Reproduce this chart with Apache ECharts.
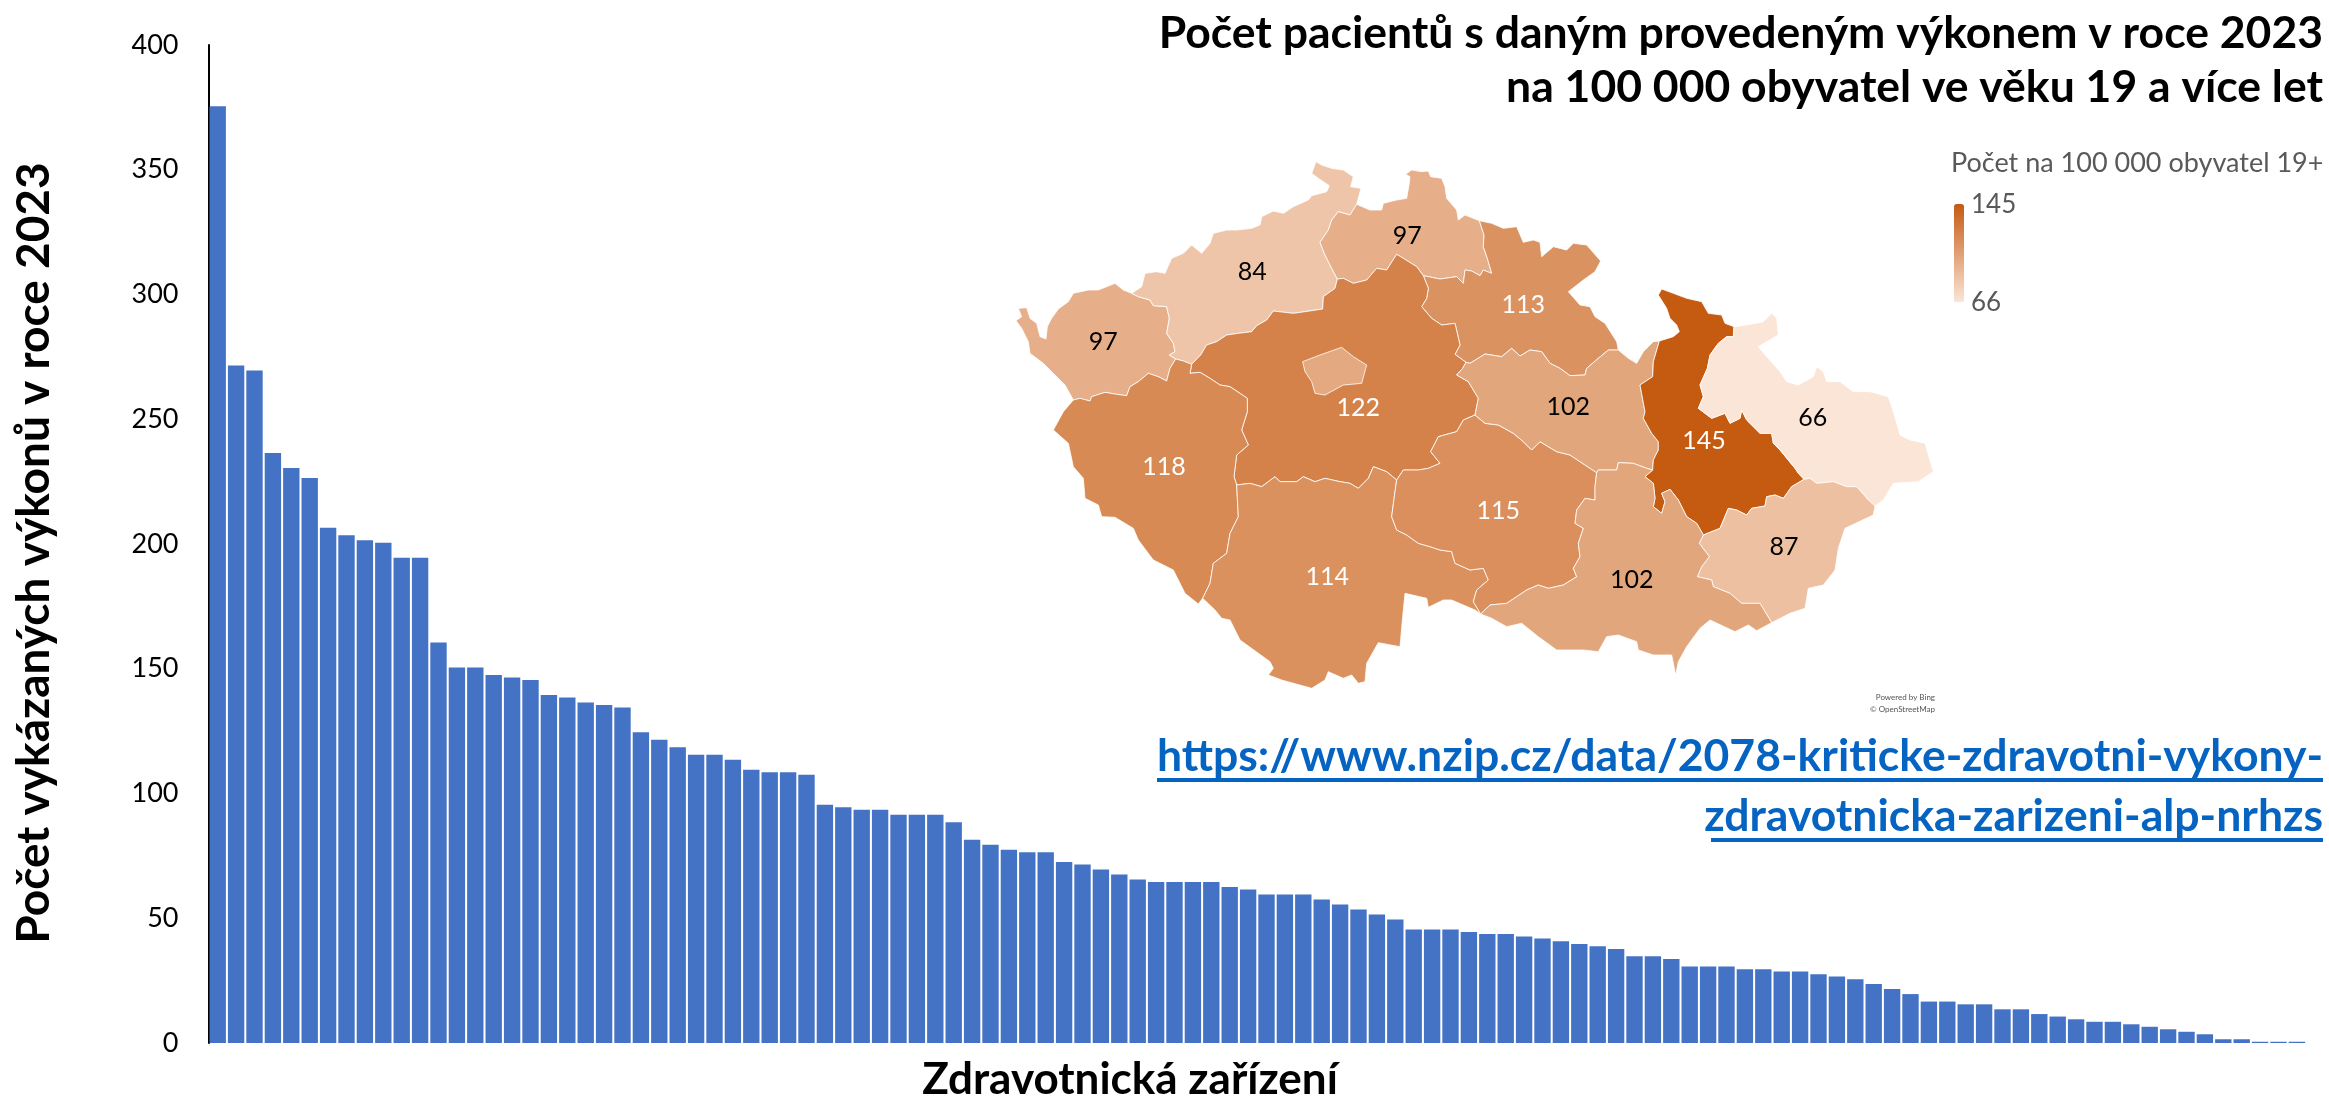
<!DOCTYPE html>
<html><head><meta charset="utf-8">
<style>html,body{margin:0;padding:0;background:#fff}#c{width:2329px;height:1098px}</style>
<script src="https://cdn.jsdelivr.net/npm/echarts@6/dist/echarts.min.js"></script>
</head><body><div id="c"></div>
<script>
const barValues = [375.5,271.5,269.5,236.5,230.5,226.5,206.5,203.5,201.5,200.5,194.5,194.5,160.5,150.5,150.5,147.5,146.5,145.5,139.5,138.5,136.5,135.5,134.5,124.5,121.5,118.5,115.5,115.5,113.5,109.5,108.5,108.5,107.5,95.5,94.5,93.5,93.5,91.5,91.5,91.5,88.5,81.5,79.5,77.5,76.5,76.5,72.5,71.5,69.5,67.5,65.5,64.5,64.5,64.5,64.5,62.5,61.5,59.5,59.5,59.5,57.5,55.5,53.5,51.5,49.5,45.5,45.5,45.5,44.5,43.7,43.7,42.7,41.9,40.8,39.7,38.8,37.7,34.8,34.8,33.7,30.7,30.7,30.7,29.6,29.6,28.7,28.7,27.6,26.7,25.6,23.6,21.6,19.6,16.6,16.6,15.5,15.5,13.5,13.5,11.6,10.6,9.5,8.5,8.5,7.5,6.5,5.5,4.5,3.5,1.5,1.5,0.5,0.5,0.5];
const categories = barValues.map((_, i) => 'Z' + (i + 1));
const yTicks = {min: 0, max: 400, interval: 50};

const regionNames  = ['Karlovarský','Ústecký','Liberecký','Královéhradecký','Středočeský','Praha','Plzeňský','Jihočeský','Vysočina','Pardubický','Olomoucký','Moravskoslezský','Zlínský','Jihomoravský'];
const regionValues = [97,84,97,113,122,100,118,114,115,102,145,66,87,102];
const whiteLabelRegions = ['Královéhradecký','Středočeský','Plzeňský','Jihočeský','Vysočina','Olomoucký'];

const crop = (ox, oy) => pts => pts.map(p => [ox + p[0] / 3, oy + p[1] / 3]);
const A = crop(1010,155), B = crop(1470,155), C = crop(1010,420), D = crop(1470,420);
const rev = a => a.slice().reverse();

const KV_north = A([[190,735],[165,690],[130,655],[100,625],[60,595],[55,560],[35,520],[18,497],[35,485],[25,460],[50,458],[60,490],[80,505],[90,545],[108,552],[112,515],[125,490],[145,462],[175,440],[190,415],[235,405],[265,405],[315,385],[340,405],[365,415]]);
const KV_UST = A([[365,415],[385,425],[420,435],[430,452],[470,455],[478,490],[470,535],[490,565],[495,590],[478,600],[497,612]]);
const KV_PLZ = A([[497,612],[480,640],[470,678],[445,665],[415,655],[385,680],[360,695],[350,722],[320,718],[285,712],[245,725],[240,738],[210,730],[190,735]]);
const UST_north = A([[365,415],[395,395],[405,355],[440,350],[465,355],[485,310],[520,295],[545,270],[575,295],[600,265],[610,235],[650,225],[680,225],[725,220],[750,210],[755,185],[790,168],[820,175],[850,155],[895,135],[905,122],[950,110],[958,92],[925,70],[905,55],[918,20],[935,30],[965,40],[1000,45],[1030,65],[1022,95],[1053,100],[1040,148]]);
const UST_LIB = A([[1040,148],[1020,180],[985,170],[965,195],[955,225],[930,262],[945,300],[965,340],[982,372]]);
const UST_STR = A([[982,372],[975,400],[940,425],[938,462],[885,470],[850,475],[790,468],[770,495],[740,512],[725,530],[685,535],[650,540],[620,560],[590,570],[572,600],[545,628]]);
const UST_PLZ = A([[497,612],[520,618],[545,628]]);
const LIB_north = A([[1040,148],[1080,165],[1115,165],[1120,145],[1160,135],[1190,130],[1197,90],[1200,65],[1187,58],[1205,45],[1235,50],[1255,48],[1262,65],[1295,70],[1305,95],[1310,130],[1340,165],[1345,195],[1365,180],[1408,197]]);
const LIB_KH = B([[28,197],[42,240],[40,275],[52,310],[65,355]]);
const LIB_KH2 = B([[65,355],[40,345],[30,362],[5,348],[-15,345]]).concat(A([[1360,385],[1340,365],[1290,372],[1240,362]]));
const LIB_STR = A([[1240,362],[1220,335],[1180,310],[1160,298],[1130,345],[1100,340],[1070,375],[1030,385],[1000,370],[982,372]]);
const KH_north = B([[28,197],[65,205],[100,220],[140,215],[160,262],[190,255],[210,262],[215,305],[250,275],[290,285],[310,265],[350,270],[392,318],[375,350],[340,375],[295,410],[330,450],[360,455],[375,485],[405,505],[440,560],[445,585]]);
const KH_PARD = B([[445,585],[415,585],[385,610],[350,640],[345,660],[300,662],[270,640],[240,625],[215,590],[180,585],[150,603],[125,580],[95,605],[45,597],[0,625]]).concat(A([[1368,622]]));
const KH_STR = A([[1240,362],[1255,400],[1250,430],[1235,455],[1265,490],[1295,510],[1335,505],[1350,570],[1335,598],[1368,622]]);
const PARD_STR = A([[1368,622],[1358,640],[1340,660],[1375,680],[1405,730],[1395,780]]);
const PARD_outer = B([[445,585],[475,610],[500,625],[520,590],[550,560],[568,558]]);
const PARD_OL = B([[568,558],[550,620],[548,665],[510,690],[525,770],[520,790]]).concat(D([[545,40],[565,65],[565,90],[550,120],[548,150]]));
const PARD_VYS = A([[1395,780]]).concat(B([[45,805],[85,810]])).concat(D([[130,40],[160,65],[185,90],[210,65],[260,95],[300,105],[345,135],[380,158]]));
const PARD_JM = D([[380,158],[385,150],[440,150],[445,128],[490,130],[530,145],[548,150]]);
const OL_north = B([[568,558],[610,545],[628,530],[620,510],[600,490],[590,460],[565,420],[575,402],[610,415],[650,430],[695,440],[715,475],[755,480],[765,505],[792,515]]);
const OL_MS = B([[792,515],[790,545],[770,545],[745,565],[720,600],[712,640],[690,690],[700,725],[685,760],[725,790],[765,775],[780,805],[810,790],[815,765],[830,795]]).concat(D([[870,40],[905,40],[910,70],[930,90],[975,145],[985,160],[1002,178]]));
const OL_JM = D([[548,150],[525,170],[550,190],[555,235],[550,260],[575,280],[585,245],[575,220],[600,208],[625,240],[650,290],[680,310],[700,345]]);
const OL_ZL = D([[700,345],[750,325],[775,265],[800,270],[830,285],[845,265],[885,258],[890,230],[915,225],[940,235],[965,200],[1002,178]]);
const MS_outer = B([[792,515],[830,510],[880,500],[905,475],[920,490],[925,540],[890,560],[865,575],[890,605],[930,650],[950,680],[985,690],[1030,665],[1040,635],[1060,650],[1070,680],[1110,680],[1150,710],[1200,710],[1255,725],[1270,770]]).concat(D([[1290,45],[1320,60],[1365,70],[1390,155],[1345,185],[1270,190],[1240,240],[1215,258]]));
const MS_ZL = D([[1002,178],[1020,175],[1040,190],[1090,185],[1130,200],[1160,200],[1195,240],[1215,258]]);
const ZL_outer = D([[1215,258],[1210,285],[1125,325],[1105,385],[1095,450],[1060,495],[1015,505],[1005,565],[960,580],[905,608]]);
const ZL_JM = D([[700,345],[688,370],[718,410],[695,440],[682,470],[725,480],[730,500],[780,520],[815,550],[870,550],[905,608]]);
const JM_outer = D([[905,608],[860,632],[835,615],[795,635],[720,600],[690,625],[650,680],[625,725],[617,765],[605,705],[550,705],[505,690],[500,665],[445,645],[410,650],[385,695],[340,690],[260,690],[205,650],[155,610],[110,620],[65,595],[32,582]]);
const JM_VY = D([[380,158],[375,200],[375,240],[345,235],[320,270],[315,310],[340,325],[325,370],[330,410],[310,445],[320,470],[280,495],[235,505],[205,495],[170,510],[110,550],[60,555],[32,582]]);
const VY_JC = D([[32,582],[10,545],[20,510],[55,480],[40,445],[0,450]]).concat(C([[1335,430],[1325,395],[1290,390],[1260,380],[1225,370],[1190,345],[1160,330],[1145,290],[1155,215],[1160,180]]));
const STR_VY = C([[1160,180],[1180,150],[1225,150],[1255,145],[1290,130],[1262,95],[1285,50],[1340,35],[1360,0]]).concat(A([[1395,780]]));
const STR_JC = C([[1160,180],[1130,155],[1090,140],[1075,175],[1045,205],[1020,190],[990,185],[945,175],[915,185],[880,170],[860,185],[810,185],[795,170],[755,200],[720,190],[680,195]]);
const STR_PLZ = A([[545,628],[540,655],[570,652],[600,670],[630,690],[660,695],[712,730],[712,770]]).concat(C([[695,30],[715,75],[680,105],[672,170],[680,195]]));
const PLZ_JC = C([[680,195],[685,290],[660,340],[650,400],[610,430],[600,490],[578,535]]);
const PLZ_outer = A([[190,735],[160,770]]).concat(C([[130,30],[175,70],[190,140],[220,175],[225,235],[265,255],[275,290],[315,292],[370,325],[385,360],[430,420],[490,450],[525,520],[565,552],[578,535]]));
const JC_outer = C([[578,535],[615,570],[635,595],[660,600],[690,660],[780,725],[790,745],[775,765],[815,780],[905,805],[945,780],[955,755],[1000,775],[1025,765],[1045,790],[1065,785],[1070,730],[1105,668],[1170,680],[1178,590],[1185,520],[1250,535],[1255,562],[1300,540],[1325,540],[1395,570],[1412,582]]);
const PRAHA = A([[878,620],[930,600],[995,577],[1030,605],[1070,630],[1055,685],[1000,690],[945,720],[915,715],[905,680],[885,650]]);

const regionOutlines = {
  'Karlovarský': [KV_north, KV_UST, KV_PLZ],
  'Ústecký': [UST_north, UST_LIB, UST_STR, rev(UST_PLZ), rev(KV_UST)],
  'Liberecký': [LIB_north, LIB_KH, LIB_KH2, LIB_STR, rev(UST_LIB)],
  'Královéhradecký': [KH_north, KH_PARD, rev(KH_STR), rev(LIB_KH2), rev(LIB_KH)],
  'Středočeský': [KH_STR, PARD_STR, rev(STR_VY), STR_JC, rev(STR_PLZ), rev(UST_STR), rev(LIB_STR)],
  'Praha': [PRAHA],
  'Plzeňský': [rev(KV_PLZ), UST_PLZ, STR_PLZ, PLZ_JC, rev(PLZ_outer)],
  'Jihočeský': [rev(STR_JC), rev(VY_JC), rev(JC_outer), rev(PLZ_JC)],
  'Vysočina': [STR_VY, PARD_VYS, JM_VY, VY_JC],
  'Pardubický': [rev(KH_PARD), PARD_outer, PARD_OL, rev(PARD_JM), rev(PARD_VYS), rev(PARD_STR)],
  'Olomoucký': [OL_north, OL_MS, rev(OL_ZL), rev(OL_JM), rev(PARD_OL)],
  'Moravskoslezský': [MS_outer, rev(MS_ZL), rev(OL_MS)],
  'Zlínský': [OL_ZL, MS_ZL, ZL_outer, rev(ZL_JM)],
  'Jihomoravský': [PARD_JM, OL_JM, ZL_JM, JM_outer, rev(JM_VY)]
};
const regionLabelAnchors = {
  'Karlovarský':A([[280,560]])[0], 'Ústecký':A([[727,350]])[0], 'Liberecký':A([[1192,242]])[0],
  'Královéhradecký':B([[160,450]])[0], 'Středočeský':A([[1045,758]])[0], 'Praha':A([[975,640]])[0],
  'Plzeňský':C([[462,140]])[0], 'Jihočeský':C([[952,470]])[0], 'Vysočina':D([[85,272]])[0],
  'Pardubický':B([[295,755]])[0], 'Olomoucký':D([[702,62]])[0], 'Moravskoslezský':B([[1028,790]])[0],
  'Zlínský':D([[942,380]])[0], 'Jihomoravský':D([[485,480]])[0]
};

const FONT = 'Lato, "Open Sans", sans-serif';
const toGeo = p => [p[0], -p[1]];
const ringOf = n => regionOutlines[n].flat();
const allPts = regionNames.flatMap(ringOf);
const xs = allPts.map(p => p[0]), ys = allPts.map(p => p[1]);
const mapBox = {left:Math.min(...xs), top:Math.min(...ys), width:Math.max(...xs)-Math.min(...xs), height:Math.max(...ys)-Math.min(...ys)};

echarts.registerMap('cz', {type:'FeatureCollection', features: regionNames.map(n => {
  const ring = ringOf(n);
  return {type:'Feature', properties:{name:n, cp:toGeo(regionLabelAnchors[n])},
    geometry:{type:'Polygon', coordinates:[ring.concat([ring[0]]).map(toGeo)]}};
})});

function txt(text, x, y, size, opts) {
  opts = opts || {};
  return {type:'text', x, y, rotation: opts.rotation || 0, silent:true, z:20,
    style:{text, font:(opts.weight||'normal')+' '+size+'px '+FONT, fill:opts.fill||'#000',
      textAlign:opts.align||'left', textVerticalAlign:'middle'}};
}
const LINK = '#0563C1';

const chart = echarts.init(document.getElementById('c'), null, {width:2329, height:1098});
chart.setOption({
  animation:false,
  backgroundColor:'#fff',
  grid:{left:208.5, top:45, width:2097.6, height:998, containLabel:false},
  xAxis:{type:'category', data:categories, axisLine:{show:false}, axisTick:{show:false}, axisLabel:{show:false}, splitLine:{show:false}},
  yAxis:{type:'value', min:yTicks.min, max:yTicks.max, interval:yTicks.interval,
    axisLine:{show:true, lineStyle:{color:'#000', width:2}}, axisTick:{show:false}, splitLine:{show:false},
    axisLabel:{color:'#000', fontFamily:FONT, fontSize:27, margin:30}},
  visualMap:{type:'continuous', seriesIndex:1, min:66, max:145, left:1954, top:204, itemWidth:10, itemHeight:98, padding:0,
    calculable:false, realtime:false, inRange:{color:['#FBE5D6','#C55A11']}, text:null, silent:true},
  series:[
    {type:'bar', data:barValues, barCategoryGap:'11%', itemStyle:{color:'#4472C4'}, silent:true},
    {type:'map', map:'cz', aspectScale:1, left:mapBox.left, top:mapBox.top, width:mapBox.width, height:mapBox.height, roam:false, silent:true, z:5,
     showLegendSymbol:false, selectedMode:false,
     itemStyle:{borderColor:'#fff', borderWidth:0.8},
     label:{show:true, fontFamily:FONT, fontSize:25, formatter:p => p.value},
     data:regionNames.map((n,i) => ({name:n, value:regionValues[i],
       label:{show:n !== 'Praha', color: whiteLabelRegions.includes(n) ? '#fff' : '#000'}}))}
  ],
  graphic:[
    txt('Počet pacientů s daným provedeným výkonem v roce 2023', 2323, 34, 44.5, {weight:'bold', align:'right'}),
    txt('na 100 000 obyvatel ve věku 19 a více let', 2323, 88, 44.5, {weight:'bold', align:'right'}),
    txt('https://www.nzip.cz/data/2078-kriticke-zdravotni-vykony-', 2323, 757, 44.5, {weight:'bold', align:'right', fill:LINK}),
    txt('zdravotnicka-zarizeni-alp-nrhzs', 2323, 817, 44.5, {weight:'bold', align:'right', fill:LINK}),
    {type:'rect', z:20, silent:true, shape:{x:1157, y:778, width:1166, height:4}, style:{fill:LINK}},
    {type:'rect', z:20, silent:true, shape:{x:1711, y:838, width:612, height:4}, style:{fill:LINK}},
    txt('Počet vykázaných výkonů v roce 2023', 34, 553, 46, {weight:'bold', align:'center', rotation:Math.PI/2}),
    txt('Zdravotnická zařízení', 1130, 1080, 44, {weight:'bold', align:'center'}),
    txt('Počet na 100 000 obyvatel 19+', 1951, 163, 27, {fill:'#595959'}),
    txt('145', 1971, 205, 26, {fill:'#595959'}),
    txt('66', 1971, 303, 26, {fill:'#595959'}),
    txt('Powered by Bing', 1935, 697, 8, {fill:'#555', align:'right'}),
    txt('© OpenStreetMap', 1935, 709, 8, {fill:'#555', align:'right'})
  ]
});
</script></body></html>
